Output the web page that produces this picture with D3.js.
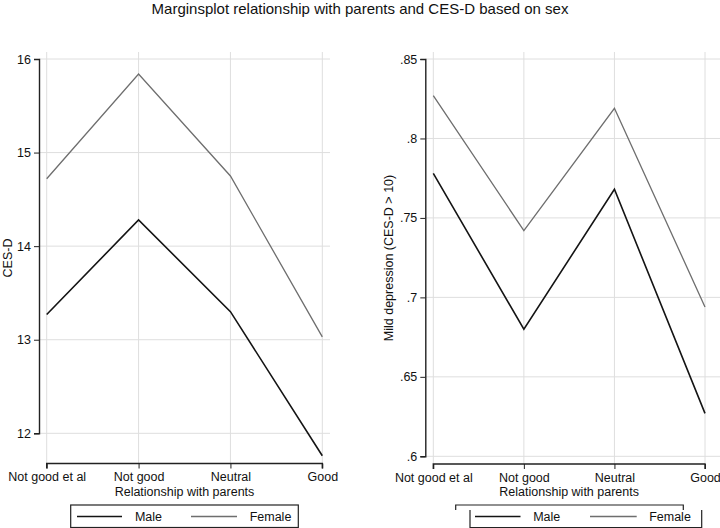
<!DOCTYPE html>
<html><head><meta charset="utf-8">
<script src="https://cdn.jsdelivr.net/npm/d3@7"></script>
<style>body{margin:0;background:#fff}svg{display:block}text{font-family:"Liberation Sans",Arial,sans-serif;fill:#111}</style>
</head><body><svg id="c" width="720" height="528"></svg>
<script>
const categories = ["Not good et al", "Not good", "Neutral", "Good"];
const cesdMale = [13.27, 14.28, 13.30, 11.76];
const cesdFemale = [14.72, 15.84, 14.75, 13.03];
const mildMale = [0.778, 0.680, 0.768, 0.627];
const mildFemale = [0.827, 0.742, 0.819, 0.694];
const cesdTicks = [12, 13, 14, 15, 16];
const mildTicks = [0.6, 0.65, 0.7, 0.75, 0.8, 0.85];
const mildTickLabels = [".6", ".65", ".7", ".75", ".8", ".85"];
const seriesNames = ["Male", "Female"];
const colors = {Male: "#141414", Female: "#6e6e6e"};

const svg = d3.select("#c");
svg.append("text").attr("x", 360).attr("y", 14).attr("text-anchor", "middle")
  .style("font-size", "15px").text("Marginsplot relationship with parents and CES-D based on sex");

function panel(o) {
  const x = d3.scalePoint().domain(categories).range(o.xr);
  const y = d3.scaleLinear().domain(o.yd).range(o.yr);
  const g = svg.append("g");
  // grid
  o.ticks.forEach(t => g.append("line").attr("x1", o.ax).attr("x2", o.gridRight)
    .attr("y1", y(t)).attr("y2", y(t)).attr("stroke", "#dedede").attr("stroke-width", 1));
  categories.forEach(c => g.append("line").attr("x1", x(c)).attr("x2", x(c))
    .attr("y1", o.gridTop).attr("y2", o.axY).attr("stroke", "#dedede").attr("stroke-width", 1));
  // y axis
  const ya = d3.axisLeft(y).tickValues(o.ticks).tickSize(5).tickPadding(3).tickFormat((d, i) => o.labels[i]);
  const yg = g.append("g").attr("transform", `translate(${o.ax},0)`).call(ya);
  yg.select(".domain").attr("stroke", "#222").attr("stroke-width", 1.4);
  yg.selectAll(".tick line").attr("stroke", "#222");
  yg.selectAll("text").style("font-size", "12.5px").attr("fill", "#111");
  // x axis
  const xa = d3.axisBottom(x).tickSize(5).tickPadding(4);
  const xg = g.append("g").attr("transform", `translate(0,${o.axY})`).call(xa);
  xg.select(".domain").attr("d", `M${o.xr[0]},5V0H${o.xr[1]}V5`).attr("stroke", "#222").attr("stroke-width", 1.4);
  xg.selectAll(".tick line").attr("stroke", "#222");
  xg.selectAll("text").style("font-size", "12.5px").attr("fill", "#111");
  // titles
  g.append("text").attr("x", (o.xr[0] + o.xr[1]) / 2).attr("y", 496).attr("text-anchor", "middle")
    .style("font-size", "12.5px").text("Relationship with parents");
  g.append("text").attr("transform", `translate(${o.ytx},258) rotate(-90)`).attr("text-anchor", "middle")
    .style("font-size", "12.5px").text(o.ytitle);
  // lines
  const line = d3.line().x((d, i) => x(categories[i])).y(d => y(d));
  [[o.male, "Male"], [o.female, "Female"]].forEach(([vals, name]) => {
    g.append("path").attr("d", line(vals)).attr("fill", "none")
      .attr("stroke", colors[name]).attr("stroke-width", name === "Male" ? 1.6 : 1.3);
  });
}

panel({xr: [46.7, 322.3], yd: [12, 16], yr: [433.3, 59], ticks: cesdTicks, labels: cesdTicks.map(String),
  ax: 39, axY: 463.5, gridRight: 330, gridTop: 52, ytx: 12, ytitle: "CES-D", male: cesdMale, female: cesdFemale});
panel({xr: [433.3, 705], yd: [0.6, 0.85], yr: [456.3, 59], ticks: mildTicks, labels: mildTickLabels,
  ax: 425.3, axY: 464, gridRight: 720, gridTop: 52, ytx: 393, ytitle: "Mild depression (CES-D > 10)", male: mildMale, female: mildFemale});

// legends
function legendItems(g, pos) {
  seriesNames.forEach((n, i) => {
    g.append("line").attr("x1", pos[i][0]).attr("x2", pos[i][1]).attr("y1", 516.5).attr("y2", 516.5)
      .attr("stroke", colors[n]).attr("stroke-width", n === "Male" ? 1.6 : 1.3);
    g.append("text").attr("x", pos[i][2]).attr("y", 521).attr("text-anchor", "middle")
      .style("font-size", "12.5px").text(n);
  });
}
const lg1 = svg.append("g");
lg1.append("rect").attr("x", 70.7).attr("y", 505).attr("width", 227.6).attr("height", 22.5)
  .attr("fill", "none").attr("stroke", "#222").attr("stroke-width", 1.2);
legendItems(lg1, [[77, 122, 148.5], [191, 237, 270.5]]);
const lg2 = svg.append("g");
lg2.append("path").attr("d", "M455.7,510V505H683.3V510").attr("fill", "none").attr("stroke", "#222").attr("stroke-width", 1.2);
lg2.append("path").attr("d", "M470,510V527.5H701.7V510").attr("fill", "none").attr("stroke", "#222").attr("stroke-width", 1.2);
legendItems(lg2, [[475, 520.5, 546.7], [590, 636.7, 670]]);
</script></body></html>
